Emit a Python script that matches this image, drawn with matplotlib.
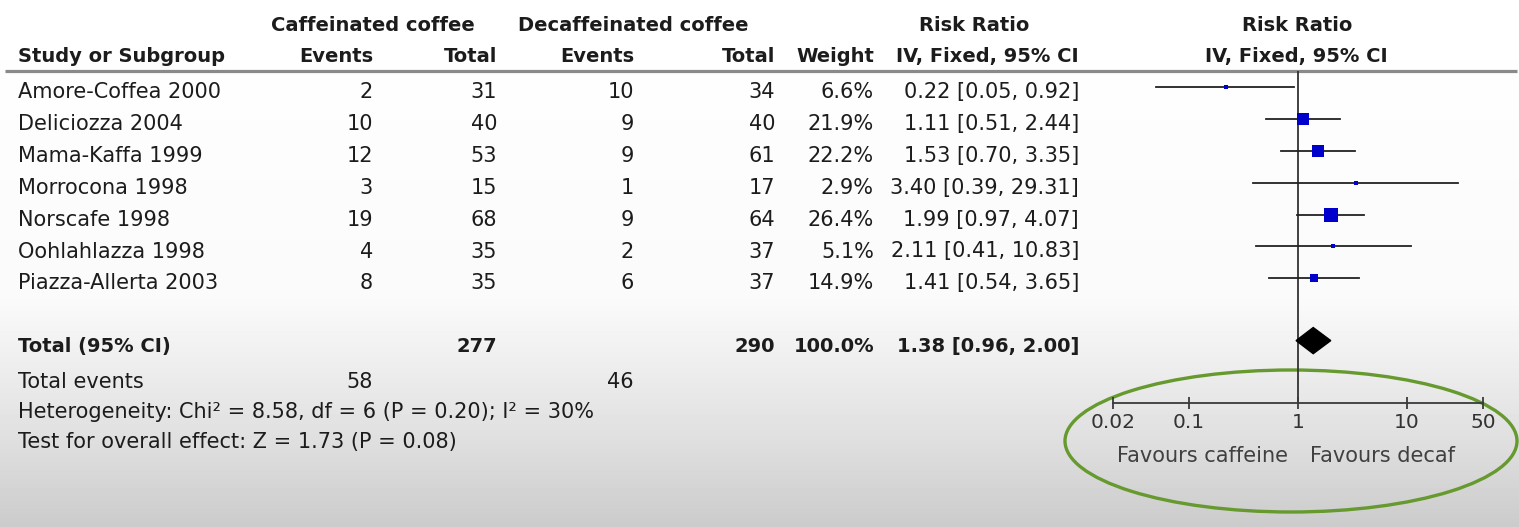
import matplotlib.pyplot as plt
import numpy as np
from matplotlib.patches import Ellipse
from matplotlib.ticker import FixedLocator, FixedFormatter, NullLocator

plt.rcParams['font.family'] = ['DejaVu Sans']

# study data
studies = ["Amore-Coffea 2000", "Deliciozza 2004", "Mama-Kaffa 1999", "Morrocona 1998",
           "Norscafe 1998", "Oohlahlazza 1998", "Piazza-Allerta 2003"]
caf_events = [2, 10, 12, 3, 19, 4, 8]
caf_total = [31, 40, 53, 15, 68, 35, 35]
dec_events = [10, 9, 9, 1, 9, 2, 6]
dec_total = [34, 40, 61, 17, 64, 37, 37]
weight = [6.6, 21.9, 22.2, 2.9, 26.4, 5.1, 14.9]
rr = [0.22, 1.11, 1.53, 3.40, 1.99, 2.11, 1.41]
rr_lo = [0.05, 0.51, 0.70, 0.39, 0.97, 0.41, 0.54]
rr_hi = [0.92, 2.44, 3.35, 29.31, 4.07, 10.83, 3.65]

# pooled result
total_caf = 277
total_dec = 290
total_weight = 100.0
pooled_rr, pooled_lo, pooled_hi = 1.38, 0.96, 2.00
events_caf_sum = 58
events_dec_sum = 46
heterogeneity = "Heterogeneity: Chi² = 8.58, df = 6 (P = 0.20); I² = 30%"
overall_test = "Test for overall effect: Z = 1.73 (P = 0.08)"

tick_vals = [0.02, 0.1, 1, 10, 50]
tick_labels = ["0.02", "0.1", "1", "10", "50"]
left_label = "Favours caffeine"
right_label = "Favours decaf"

W, H = 1519, 527
fig = plt.figure(figsize=(W / 100, H / 100), dpi=100)

# background axes in pixel units
bg = fig.add_axes([0, 0, 1, 1])
bg.set_xlim(0, W)
bg.set_ylim(H, 0)
bg.axis('off')
yy = np.arange(H)
shade = np.interp(yy, [0, 300, 440, 527], [255, 250, 223, 203]) / 255
grad = np.repeat(shade[:, None], 2, axis=1)
bg.imshow(grad, cmap='gray', vmin=0, vmax=1, aspect='auto', extent=[0, W, H, 0], zorder=0)

row0, row_h = 87, 31.9
total_pos = 7.95
def row_px(i):
    return row0 + row_h * i

txt = dict(fontsize=15, color='#1c1c1c', va='baseline')
hdr = dict(fontsize=14, color='#1c1c1c', va='baseline', fontweight='bold')

# header
bg.text(373, 31, "Caffeinated coffee", ha='center', **hdr)
bg.text(633, 31, "Decaffeinated coffee", ha='center', **hdr)
bg.text(974, 31, "Risk Ratio", ha='center', **hdr)
bg.text(1297, 31, "Risk Ratio", ha='center', **hdr)
bg.text(18, 62, "Study or Subgroup", ha='left', **hdr)
bg.text(373, 62, "Events", ha='right', **hdr)
bg.text(497, 62, "Total", ha='right', **hdr)
bg.text(634, 62, "Events", ha='right', **hdr)
bg.text(775, 62, "Total", ha='right', **hdr)
bg.text(874, 62, "Weight", ha='right', **hdr)
bg.text(1079, 62, "IV, Fixed, 95% CI", ha='right', **hdr)
bg.text(1296, 62, "IV, Fixed, 95% CI", ha='center', **hdr)
bg.plot([5, 1517], [71, 71], color='#8a8a8a', lw=2.3, solid_capstyle='butt')

# study rows
for i, name in enumerate(studies):
    y = row_px(i) + 11
    bg.text(18, y, name, ha='left', **txt)
    bg.text(373, y, str(caf_events[i]), ha='right', **txt)
    bg.text(497, y, str(caf_total[i]), ha='right', **txt)
    bg.text(634, y, str(dec_events[i]), ha='right', **txt)
    bg.text(775, y, str(dec_total[i]), ha='right', **txt)
    bg.text(874, y, f"{weight[i]:.1f}%", ha='right', **txt)
    bg.text(1079, y, f"{rr[i]:.2f} [{rr_lo[i]:.2f}, {rr_hi[i]:.2f}]", ha='right', **txt)

# totals
yt = row_px(total_pos) + 11
bg.text(18, yt, "Total (95% CI)", ha='left', **hdr)
bg.text(497, yt, str(total_caf), ha='right', **hdr)
bg.text(775, yt, str(total_dec), ha='right', **hdr)
bg.text(874, yt, f"{total_weight:.1f}%", ha='right', **hdr)
bg.text(1079, yt, f"{pooled_rr:.2f} [{pooled_lo:.2f}, {pooled_hi:.2f}]", ha='right', **hdr)
bg.text(18, 388, "Total events", ha='left', **txt)
bg.text(373, 388, str(events_caf_sum), ha='right', **txt)
bg.text(634, 388, str(events_dec_sum), ha='right', **txt)
bg.text(18, 418, heterogeneity, ha='left', **txt)
bg.text(18, 448, overall_test, ha='left', **txt)

# forest plot axes
x0, x1, ytop, ybot = 1113, 1483, 71, 403
ax = fig.add_axes([x0 / W, 1 - ybot / H, (x1 - x0) / W, (ybot - ytop) / H])
ax.patch.set_alpha(0)
ax.set_xscale('log')
ax.set_xlim(tick_vals[0], tick_vals[-1])
ax.set_ylim((ybot - row0) / row_h, (ytop - row0) / row_h)
for s in ['top', 'left', 'right']:
    ax.spines[s].set_visible(False)
ax.spines['bottom'].set_color('#3a3a3a')
ax.spines['bottom'].set_linewidth(1.3)
ax.yaxis.set_major_locator(NullLocator())
ax.xaxis.set_major_locator(FixedLocator(tick_vals))
ax.xaxis.set_major_formatter(FixedFormatter(tick_labels))
ax.xaxis.set_minor_locator(NullLocator())
ax.tick_params(axis='x', direction='inout', length=9, width=1.3, color='#3a3a3a',
               labelsize=14.5, labelcolor='#333333', pad=3)
ax.axvline(1, color='#333333', lw=1.3, zorder=1)

for i in range(len(studies)):
    ax.plot([rr_lo[i], rr_hi[i]], [i, i], color='#222222', lw=1.3, zorder=2)
    side_px = 0.45 * weight[i] + 2
    ax.plot(rr[i], i, marker='s', ms=side_px * 0.72, color='#0000cc', mec='#0000cc', mew=0, zorder=3)

ax.fill([pooled_lo, pooled_rr, pooled_hi, pooled_rr],
        [total_pos, total_pos - 0.41, total_pos, total_pos + 0.41], color='black', zorder=3)

bg.text(1288, 462, left_label, ha='right', va='baseline', fontsize=15, color='#404040')
bg.text(1310, 462, right_label, ha='left', va='baseline', fontsize=15, color='#404040')

bg.add_patch(Ellipse((1291, 441), 452, 142, fill=False, ec='#66992e', lw=2.4, zorder=5))

fig.savefig('out.png', dpi=100)
